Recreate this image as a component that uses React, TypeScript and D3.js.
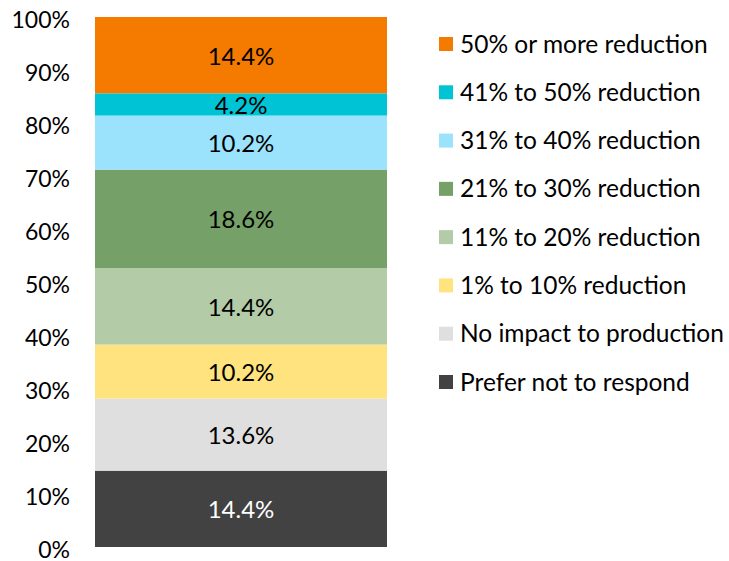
import { useEffect, useRef } from 'react';
import * as d3 from 'd3';

// categories bottom -> top
const categories = [
  'Prefer not to respond',
  'No impact to production',
  '1% to 10% reduction',
  '11% to 20% reduction',
  '21% to 30% reduction',
  '31% to 40% reduction',
  '41% to 50% reduction',
  '50% or more reduction',
];
const values = [14.4, 13.6, 10.2, 14.4, 18.6, 10.2, 4.2, 14.4];
const colors = ['#424242', '#dfdfdf', '#fee37e', '#b3cca7', '#75a068', '#9be3fd', '#00c4d6', '#f57a00'];
const tickValues = [0, 10, 20, 30, 40, 50, 60, 70, 80, 90, 100];

const WIDTH = 729;
const HEIGHT = 561;
const FONT = 'Lato, "Open Sans", sans-serif';

export default function App() {
  const svgRef = useRef<SVGSVGElement>(null);

  useEffect(() => {
    if (!svgRef.current) return;
    const svg = d3.select(svgRef.current);
    svg.selectAll('*').remove();

    const y = d3.scaleLinear().domain([0, 100]).range([547, 17]);
    const x0 = 95;
    const x1 = 387;

    // stack offsets
    const stacked: { name: string; v: number; start: number; end: number; color: string }[] = [];
    let acc = 0;
    categories.forEach((name, i) => {
      stacked.push({ name, v: values[i], start: acc, end: acc + values[i], color: colors[i] });
      acc += values[i];
    });

    svg.append('g')
      .selectAll('rect')
      .data(stacked)
      .join('rect')
      .attr('x', x0)
      .attr('width', x1 - x0)
      .attr('y', (d) => y(d.end))
      .attr('height', (d) => y(d.start) - y(d.end))
      .attr('fill', (d) => d.color);

    svg.append('g')
      .attr('text-anchor', 'middle')
      .style('font-family', FONT)
      .style('font-size', '24px')
      .selectAll('text')
      .data(stacked)
      .join('text')
      .attr('x', (x0 + x1) / 2)
      .attr('y', (d) => y((d.start + d.end) / 2) + 1)
      .attr('dy', '0.35em')
      .attr('fill', (_d, i) => (i === 0 ? '#ffffff' : '#000000'))
      .text((d) => `${d.v.toFixed(1)}%`);

    // y axis labels
    svg.append('g')
      .attr('text-anchor', 'end')
      .style('font-family', FONT)
      .style('font-size', '23px')
      .selectAll('text')
      .data(tickValues)
      .join('text')
      .attr('x', 70)
      .attr('y', (d) => y(d) + 3)
      .attr('dy', '0.35em')
      .attr('fill', '#000')
      .text((d) => `${d}%`);

    // legend, top -> bottom
    const legendItems = stacked.slice().reverse();
    const ly = d3.scalePoint<string>()
      .domain(legendItems.map((d) => d.name))
      .range([44, 382]);
    const lg = svg.append('g')
      .style('font-family', FONT)
      .style('font-size', '24.5px');
    const item = lg.selectAll('g')
      .data(legendItems)
      .join('g')
      .attr('transform', (d) => `translate(439,${ly(d.name)})`);
    item.append('rect')
      .attr('x', 0)
      .attr('y', -7)
      .attr('width', 14)
      .attr('height', 14)
      .attr('fill', (d) => d.color);
    item.append('text')
      .attr('x', 21)
      .attr('dy', '0.35em')
      .attr('fill', '#000')
      .text((d) => d.name);
  }, []);

  return (
    <svg
      ref={svgRef}
      width={WIDTH}
      height={HEIGHT}
      style={{ position: 'absolute', left: 0, top: 0, background: '#fff' }}
    />
  );
}
